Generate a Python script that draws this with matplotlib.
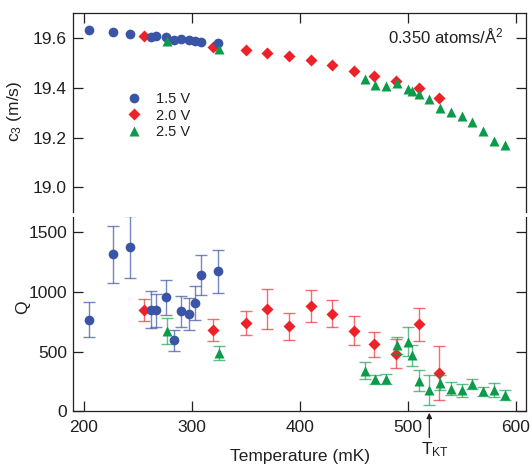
import matplotlib
matplotlib.use('Agg')
import matplotlib.pyplot as plt
from matplotlib.lines import Line2D
import matplotlib.transforms as mtransforms

plt.rcParams['font.family'] = ['Liberation Sans', 'DejaVu Sans']
plt.rcParams['mathtext.default'] = 'regular'
TXT = '#231f20'
plt.rcParams['text.color'] = TXT
plt.rcParams['axes.labelcolor'] = TXT
plt.rcParams['xtick.color'] = TXT
plt.rcParams['ytick.color'] = TXT

# ---------------- data ----------------
blue_T = [204.5, 227.5, 243, 262, 267, 276, 284, 290, 297, 303, 309, 324]
blue_c3 = [19.633, 19.624, 19.616, 19.604, 19.607, 19.603, 19.593, 19.595, 19.593, 19.589, 19.584, 19.580]
blue_Q = [768, 1315, 1374, 852, 846, 953, 593, 837, 812, 907, 1141, 1174]
blue_err = [145, 238, 258, 154, 140, 145, 88, 130, 133, 140, 168, 180]

red_T = [256, 320, 350, 370, 390, 410, 430, 450, 469, 489, 510, 529]
red_c3 = [19.607, 19.565, 19.551, 19.539, 19.527, 19.513, 19.493, 19.470, 19.448, 19.428, 19.399, 19.359]
red_Q = [850, 683, 742, 856, 711, 884, 817, 676, 559, 483, 727, 319]
red_err = [93, 92, 100, 167, 116, 135, 115, 122, 107, 125, 142, 228]

green_T = [277, 325, 460, 470, 480, 490, 500, 504, 510, 520, 530, 540, 550, 560, 570, 580, 590]
green_c3 = [19.587, 19.556, 19.436, 19.412, 19.409, 19.419, 19.395, 19.388, 19.376, 19.357,
            19.318, 19.305, 19.289, 19.262, 19.228, 19.188, 19.171]
green_Q = [672, 491, 341, 266, 271, 551, 584, 467, 257, 179, 238, 188, 174, 224, 168, 179, 132]
green_err = [110, 59, 74, 40, 42, 75, 125, 84, 90, 125, 62, 56, 54, 42, 39, 57, 42]

labels = ['1.5 V', '2.0 V', '2.5 V']
T_KT = 520
x_ticks = [200, 300, 400, 500, 600]
c3_ticks = [19.0, 19.2, 19.4, 19.6]
q_ticks = [0, 500, 1000, 1500]

BLUE = '#3a54a6'
RED = '#ee2128'
GREEN = '#0b9b4a'

# ---------------- figure ----------------
fig = plt.figure(figsize=(5.32, 4.72), dpi=100)
ax1 = fig.add_axes([0.1378, 0.5502, 0.8504, 0.4216])
ax2 = fig.add_axes([0.1378, 0.1288, 0.8504, 0.4121])

ms_c, ms_d, ms_t = 7.0, 5.8, 7.8

ax1.plot(red_T, red_c3, ls='none', marker='D', color=RED, ms=ms_d, mec='none', zorder=3)
ax1.plot(blue_T, blue_c3, ls='none', marker='o', color=BLUE, ms=ms_c, mec='none', zorder=4)
ax1.plot(green_T, green_c3, ls='none', marker='^', color=GREEN, ms=ms_t, mec='none', zorder=5)

ekw = dict(elinewidth=1.0, capsize=4.3, capthick=1.0, mec='none', ls='none')
ax2.errorbar(red_T, red_Q, yerr=red_err, fmt='D', color=RED, ms=ms_d,
             ecolor=(0.93, 0.13, 0.16, 0.65), zorder=3, **ekw)
ax2.errorbar(blue_T, blue_Q, yerr=blue_err, fmt='o', color=BLUE, ms=ms_c,
             ecolor=(0.23, 0.33, 0.65, 0.7), zorder=4, **ekw)
ax2.errorbar(green_T, green_Q, yerr=green_err, fmt='^', color=GREEN, ms=ms_t,
             ecolor=(0.04, 0.61, 0.29, 0.65), zorder=5, **ekw)

for ax in (ax1, ax2):
    ax.set_xlim(190.3, 609.3)
    ax.set_xticks(x_ticks)
    ax.tick_params(direction='in', length=7.5, width=0.9, labelsize=12.5)
    ax.tick_params(axis='y', left=True, right=True, pad=4.5)
    for s in ax.spines.values():
        s.set_linewidth(0.9)
        s.set_color(TXT)

ax1.set_ylim(18.9, 19.7)
ax1.set_yticks(c3_ticks)
ax1.set_yticklabels([f'{v:.1f}' for v in c3_ticks])
ax1.spines['bottom'].set_visible(False)
ax1.tick_params(axis='x', top=True, bottom=False, labeltop=False, labelbottom=False)

ax2.set_ylim(0, 1630)
ax2.set_yticks(q_ticks)
ax2.spines['top'].set_visible(False)
ax2.tick_params(axis='x', top=False, bottom=True, pad=6)

ax1.set_ylabel('c$_3$ (m/s)', fontsize=12.5)
ax1.yaxis.set_label_coords(-0.109, 0.51)
ax2.set_ylabel('Q', fontsize=12.5)
ax2.yaxis.set_label_coords(-0.096, 0.536)
ax2.set_xlabel('Temperature (mK)', fontsize=12.5)
ax2.xaxis.set_label_coords(0.5, -0.196)

ax1.text(0.95, 0.846, '0.350 atoms/Å$^2$', transform=ax1.transAxes,
         ha='right', va='baseline', fontsize=12)

handles = [Line2D([], [], ls='none', marker='o', color=BLUE, ms=ms_c, mec='none'),
           Line2D([], [], ls='none', marker='D', color=RED, ms=ms_d, mec='none'),
           Line2D([], [], ls='none', marker='^', color=GREEN, ms=ms_t, mec='none')]
ax1.legend(handles, labels, loc='upper left', bbox_to_anchor=(0.1174, 0.605),
           frameon=False, fontsize=10.5, handlelength=1.0, handletextpad=1.0,
           labelspacing=0.18, borderpad=0, borderaxespad=0)

trans = mtransforms.blended_transform_factory(ax2.transData, ax2.transAxes)
ax2.annotate('', xy=(T_KT, -0.008), xycoords=trans, xytext=(T_KT, -0.135), textcoords=trans,
             arrowprops=dict(arrowstyle='-|>', color=TXT, lw=0.9, mutation_scale=8,
                             shrinkA=0, shrinkB=0), annotation_clip=False)
ax2.text(T_KT + 5, -0.20, 'T$_{KT}$', transform=trans, ha='center', va='center', fontsize=12.5)

fig.savefig('out.png', dpi=100)
